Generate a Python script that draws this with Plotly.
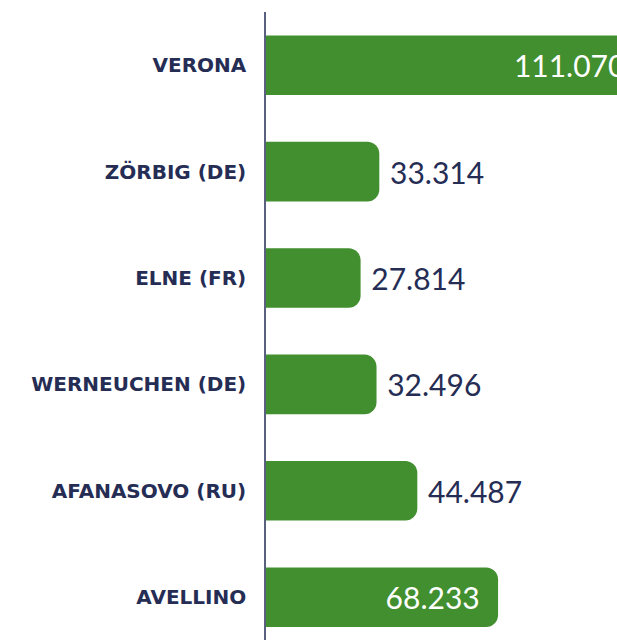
import plotly.graph_objects as go

# sites and values, top to bottom
sites = ["VERONA", "ZÖRBIG (DE)", "ELNE (FR)", "WERNEUCHEN (DE)", "AFANASOVO (RU)", "AVELLINO"]
values = [111.07, 33.314, 27.814, 32.496, 44.487, 68.233]
label_pos = ["inside", "outside", "outside", "outside", "outside", "inside"]

green = "#428f2f"
navy = "#252d55"

# white label inside the long bars, dark label after the short ones
templates = ["%{x:.3f}\u00a0\u00a0" if p == "inside" else "\u00a0%{x:.3f}" for p in label_pos]

fig = go.Figure()
fig.add_trace(go.Bar(
    x=values,
    y=sites,
    orientation="h",
    marker=dict(color=green, cornerradius=12, line=dict(width=0)),
    texttemplate=templates,
    textposition=label_pos,
    insidetextanchor="end",
    insidetextfont=dict(family="Lato", size=30, color="white"),
    outsidetextfont=dict(family="Lato", size=30, color=navy),
    constraintext="none",
    cliponaxis=True,
    hoverinfo="skip",
))

fig.update_layout(
    width=617,
    height=640,
    margin=dict(l=266, r=0, t=12, b=0),
    paper_bgcolor="white",
    plot_bgcolor="white",
    showlegend=False,
    bargap=0.44,
    font=dict(family="Lato", color=navy),
)
fig.update_xaxes(
    range=[0, 103.2],
    showgrid=False,
    zeroline=False,
    showticklabels=False,
    showline=False,
)
fig.update_yaxes(
    range=[5.402, -0.5],
    showgrid=False,
    zeroline=False,
    showline=True,
    linecolor="#5a6080",
    linewidth=1.5,
    ticks="",
    ticklabelstandoff=14,
    tickfont=dict(family="DejaVu Sans", size=20, color=navy, weight="bold"),
    automargin=False,
)

# no page margin, so the figure fills the window exactly
fig.write_html(
    "out.html",
    config={"displayModeBar": False},
    post_script="document.body.style.margin='0';document.body.style.overflow='hidden';",
)
